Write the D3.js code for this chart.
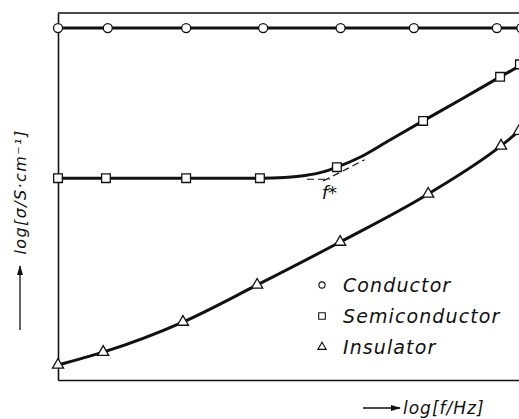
<!DOCTYPE html>
<html>
<head>
<meta charset="utf-8">
<script src="https://cdn.jsdelivr.net/npm/d3@7"></script>
<style>
  body { margin: 0; background: #fff; }
  svg text { font-family: "DejaVu Sans", "Liberation Sans", sans-serif; font-style: italic; fill: #111; }
</style>
</head>
<body>
<svg id="chart" width="519" height="419"></svg>
<script>
// log f (arbitrary units) and log σ (arbitrary units) read per marker
const conductorX = [0, 1.08, 2.78, 4.45, 6.13, 7.72, 9.52, 10.05];
const conductorY = [9.59, 9.59, 9.59, 9.59, 9.59, 9.59, 9.59, 9.59];

const semiX = [0, 1.04, 2.78, 4.38, 6.05, 7.92, 9.59, 10.02];
const semiY = [5.50, 5.50, 5.50, 5.50, 5.80, 7.06, 8.26, 8.60];
// vertices of the semiconductor curve (plateau, bend, power-law rise)
const semiLineX = [0, 4.38, 4.92, 5.36, 5.75, 6.05, 6.55, 7.20, 7.92, 8.72, 9.59, 10.1];
const semiLineY = [5.50, 5.50, 5.52, 5.57, 5.67, 5.80, 6.07, 6.54, 7.06, 7.63, 8.26, 8.62];

const insulX = [0, 0.98, 2.71, 4.32, 6.12, 8.03, 9.61, 10.0];
const insulY = [0.41, 0.76, 1.58, 2.59, 3.76, 5.07, 6.38, 6.78];

// dashed asymptotes meeting at the crossover frequency f*
const plateauDashX = [5.4, 5.9];
const plateauDashY = [5.47, 5.47];
const slopeDashX = [5.75, 6.65];
const slopeDashY = [5.42, 6.0];

const legendLabels = ["Conductor", "Semiconductor", "Insulator"];

const svg = d3.select("#chart");
const x = d3.scaleLinear().domain([0, 10]).range([58, 519]);
const y = d3.scaleLinear().domain([0, 10]).range([380, 13]);

const plot = svg.append("g");

// frame: left axis, bottom axis and top border
const xAxis = d3.axisBottom(x).tickValues([]).tickSizeOuter(0);
const yAxis = d3.axisLeft(y).tickValues([]).tickSizeOuter(0);
plot.append("g").attr("transform", `translate(0,${y(0)})`).call(xAxis)
  .select(".domain").attr("stroke", "#111").attr("stroke-width", 1.6);
plot.append("g").attr("transform", `translate(${x(0)},0)`).call(yAxis)
  .select(".domain").attr("stroke", "#111").attr("stroke-width", 1.6);
plot.append("line")
  .attr("x1", x(0)).attr("x2", x(10.2)).attr("y1", y(10)).attr("y2", y(10))
  .attr("stroke", "#111").attr("stroke-width", 1.6);

const line = d3.line().x(d => x(d[0])).y(d => y(d[1])).curve(d3.curveMonotoneX);

function drawCurve(xs, ys) {
  plot.append("path")
    .datum(xs.map((v, i) => [v, ys[i]]))
    .attr("d", line)
    .attr("fill", "none").attr("stroke", "#111").attr("stroke-width", 3)
    .attr("stroke-linejoin", "round");
}
drawCurve([0, 10.2], [9.59, 9.59]);
drawCurve(semiLineX, semiLineY);
drawCurve(insulX, insulY);

// asymptote dashes
[[plateauDashX, plateauDashY], [slopeDashX, slopeDashY]].forEach(([xs, ys]) => {
  plot.append("line")
    .attr("x1", x(xs[0])).attr("y1", y(ys[0]))
    .attr("x2", x(xs[1])).attr("y2", y(ys[1]))
    .attr("stroke", "#111").attr("stroke-width", 1.2)
    .attr("stroke-dasharray", "7,4");
});
plot.append("text").attr("x", x(5.72)).attr("y", y(4.92))
  .attr("font-size", 18).text("f*");

// markers
const sym = {
  circle: d3.symbol().type(d3.symbolCircle).size(64),
  square: d3.symbol().type(d3.symbolSquare).size(76),
  triangle: d3.symbol().type(d3.symbolTriangle).size(54)
};
function drawMarkers(xs, ys, gen) {
  plot.selectAll(null).data(xs.map((v, i) => [v, ys[i]])).enter()
    .append("path")
    .attr("transform", d => `translate(${x(d[0])},${y(d[1])})`)
    .attr("d", gen)
    .attr("fill", "#fff").attr("stroke", "#111").attr("stroke-width", 1.3);
}
drawMarkers(conductorX, conductorY, sym.circle);
drawMarkers(semiX, semiY, sym.square);
drawMarkers(insulX, insulY, sym.triangle);

// legend
const legend = svg.append("g").attr("transform", "translate(322,285)");
const legendSyms = [
  d3.symbol().type(d3.symbolCircle).size(30),
  d3.symbol().type(d3.symbolSquare).size(44),
  d3.symbol().type(d3.symbolTriangle).size(30)
];
legendLabels.forEach((lab, i) => {
  const g = legend.append("g").attr("transform", `translate(0,${i * 31})`);
  g.append("path").attr("d", legendSyms[i]).attr("fill", "#fff")
    .attr("stroke", "#111").attr("stroke-width", 1.1);
  g.append("text").attr("x", 21).attr("y", 7).attr("font-size", 19)
    .attr("letter-spacing", 1.1).text(lab);
});

// axis titles with arrows
const defs = svg.append("defs");
defs.append("marker").attr("id", "arrow").attr("viewBox", "0 0 10 6")
  .attr("refX", 9).attr("refY", 3).attr("markerWidth", 10).attr("markerHeight", 6)
  .attr("markerUnits", "userSpaceOnUse").attr("orient", "auto")
  .append("path").attr("d", "M0,0 L10,3 L0,6 Z").attr("fill", "#111");

svg.append("line").attr("x1", 363).attr("x2", 400).attr("y1", 408).attr("y2", 408)
  .attr("stroke", "#111").attr("stroke-width", 1.3).attr("marker-end", "url(#arrow)");
svg.append("text").attr("x", 403).attr("y", 414).attr("font-size", 17)
  .attr("letter-spacing", 1).text("log[f/Hz]");

svg.append("line").attr("x1", 20).attr("x2", 20).attr("y1", 330).attr("y2", 266)
  .attr("stroke", "#111").attr("stroke-width", 1.3).attr("marker-end", "url(#arrow)");
svg.append("text").attr("transform", "translate(26,192) rotate(-90)")
  .attr("text-anchor", "middle").attr("font-size", 16).attr("letter-spacing", 1.4)
  .text("log[σ/S·cm⁻¹]");
</script>
</body>
</html>
